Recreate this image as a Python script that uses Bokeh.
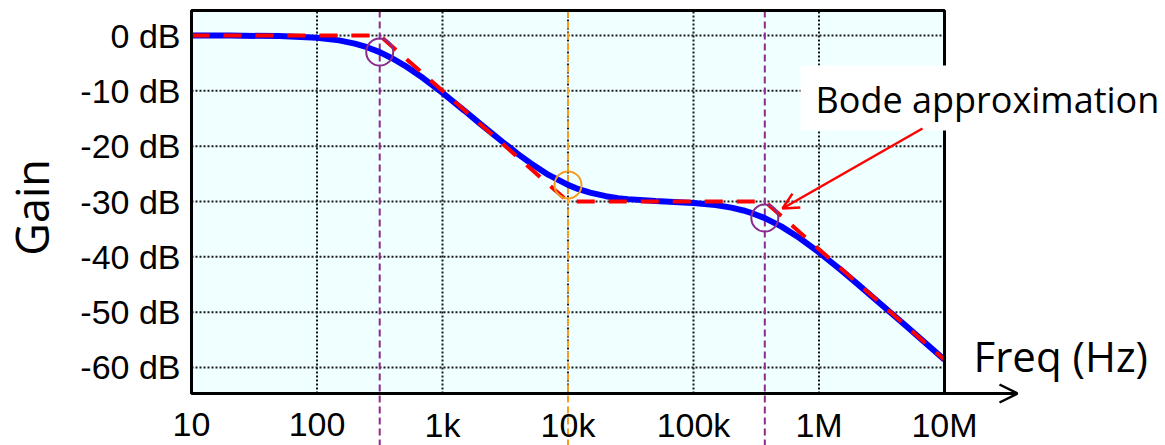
import math
from bokeh.plotting import figure
from bokeh.models import Arrow, OpenHead, Range1d
from bokeh.core.properties import value
from bokeh.embed import file_html
from bokeh.resources import INLINE

# ---- data ----
freq_hz = [10, 20, 50, 100, 150, 200, 250, 316, 400, 500, 700, 1000, 1500, 2000,
           3000, 4000, 5000, 7000, 10000, 12000, 15000, 20000, 25000, 30000, 50000,
           70000, 100000, 150000, 200000, 250000, 300000, 370000, 500000, 700000,
           1000000, 1500000, 2000000, 3000000, 5000000, 10000000]
gain_db = [0.0, -0.02, -0.11, -0.41, -0.88, -1.46, -2.11, -3.0, -4.15, -5.43,
           -7.69, -10.37, -13.61, -15.96, -19.2, -21.43, -23.03, -25.2, -27.0, -27.73,
           -28.4, -29.04, -29.39, -29.57, -29.91, -30.07, -30.27, -30.64, -31.1, -31.62,
           -32.2, -33.0, -34.5, -36.6, -39.2, -42.4, -44.8, -48.24, -52.6, -58.6]

bode_freq = [10, 316, 10000, 370000, 10000000]
bode_gain = [0.0, 0.0, -30.0, -30.0, -58.6]

marker_freq = [316, 10000, 370000]
marker_gain = [-3.0, -27.0, -33.0]
marker_color = ["#8e2a8e", "#f59d1e", "#8e2a8e"]

x_ticks = [10, 100, 1000, 10000, 100000, 1000000, 10000000]
x_tick_labels = ["10", "100", "1k", "10k", "100k", "1M", "10M"]
y_ticks = [0, -10, -20, -30, -40, -50, -60]
y_tick_labels = ["0 dB", "-10 dB", "-20 dB", "-30 dB", "-40 dB", "-50 dB", "-60 dB"]

x_title = "Freq (Hz)"
y_title = "Gain"
note_text = "Bode approximation"

# ---- layout: plot box within a full-canvas frame ----
W, H = 1165, 445
BOX_L, BOX_R, BOX_T, BOX_B = 191, 944, 10, 393      # pixels of the plot box
X_MIN, X_MAX = 10, 1e7                               # data extent of plot box
Y_MIN, Y_MAX = -64.7, 4.52
px_per_dec = (BOX_R - BOX_L) / (math.log10(X_MAX) - math.log10(X_MIN))
px_per_db = (BOX_B - BOX_T) / (Y_MAX - Y_MIN)


def x_at(px):
    return 10 ** (math.log10(X_MIN) + (px - BOX_L) / px_per_dec)


def y_at(py):
    return Y_MAX - (py - BOX_T) / px_per_db


p = figure(width=W, height=H, x_axis_type="log",
           x_range=Range1d(x_at(0), x_at(W)), y_range=Range1d(y_at(H), y_at(0)),
           x_axis_location=None, y_axis_location=None,
           output_backend="svg", toolbar_location=None, min_border=0)
p.outline_line_color = None
p.background_fill_color = "white"
p.border_fill_color = "white"
p.grid.visible = False

# plot box background
p.quad(left=[X_MIN], right=[X_MAX], bottom=[Y_MIN], top=[Y_MAX],
       fill_color="#f0ffff", line_color=None)

# grid lines
p.segment(x0=x_ticks, x1=x_ticks, y0=[Y_MIN] * len(x_ticks), y1=[Y_MAX] * len(x_ticks),
          line_color="#1a1a1a", line_width=2, line_dash="2 2")
p.segment(x0=[X_MIN] * len(y_ticks), x1=[X_MAX] * len(y_ticks), y0=y_ticks, y1=y_ticks,
          line_color="#1a1a1a", line_width=2, line_dash="2 2")

# vertical marker lines (run down past the box)
p.segment(x0=marker_freq, x1=marker_freq, y0=[Y_MAX] * 3, y1=[y_at(H + 5)] * 3,
          line_color=marker_color, line_width=2, line_dash="7 4")

# curves
p.line(freq_hz, gain_db, line_color="#0000ff", line_width=6)
p.line(bode_freq, bode_gain, line_color="#ff0000", line_width=4, line_dash="18 14")
p.scatter(marker_freq, marker_gain, marker="circle", size=27, fill_color=None,
          line_color=marker_color, line_width=2)

# plot box border
p.quad(left=[X_MIN], right=[X_MAX], bottom=[Y_MIN], top=[Y_MAX],
       fill_color=None, line_color="black", line_width=3)

# tick labels
p.text(x=[X_MIN] * len(y_ticks), y=y_ticks, text=y_tick_labels, x_offset=-11,
       text_align="right", text_baseline="middle",
       text_font=value("Liberation Sans"), text_font_size="34px", text_color="black")
p.text(x=x_ticks, y=[Y_MIN] * len(x_ticks), text=x_tick_labels, y_offset=31,
       text_align="center", text_baseline="middle",
       text_font=value("Liberation Sans"), text_font_size="34px", text_color="black")

# axis titles
p.text(x=[X_MIN], y=[y_at(207)], text=[y_title], x_offset=-160, angle=math.pi / 2,
       text_align="center", text_baseline="middle",
       text_font=value("Open Sans"), text_font_size="45px", text_color="black")
p.text(x=[X_MAX], y=[y_at(355)], text=[x_title], x_offset=29,
       text_align="left", text_baseline="middle",
       text_font=value("Open Sans"), text_font_size="42px", text_color="black")

# annotation box and text
p.quad(left=[x_at(800)], right=[x_at(W + 20)], top=[y_at(65)], bottom=[y_at(130)],
       fill_color="white", line_color=None)
p.text(x=[x_at(815)], y=[y_at(99)], text=[note_text],
       text_align="left", text_baseline="middle",
       text_font=value("Open Sans"), text_font_size="36px", text_color="black")

p.add_layout(Arrow(end=OpenHead(size=16, line_width=2.5, line_color="#ff0000"),
                   x_start=x_at(922), y_start=y_at(128), x_end=x_at(782), y_end=y_at(208),
                   line_color="#ff0000", line_width=2.5))

# x axis arrow
p.add_layout(Arrow(end=OpenHead(size=18, line_width=2.5, line_color="black"),
                   x_start=X_MAX, y_start=Y_MIN, x_end=x_at(1017), y_end=Y_MIN,
                   line_color="black", line_width=3))

open("out.html", "w").write(file_html(p, INLINE))
